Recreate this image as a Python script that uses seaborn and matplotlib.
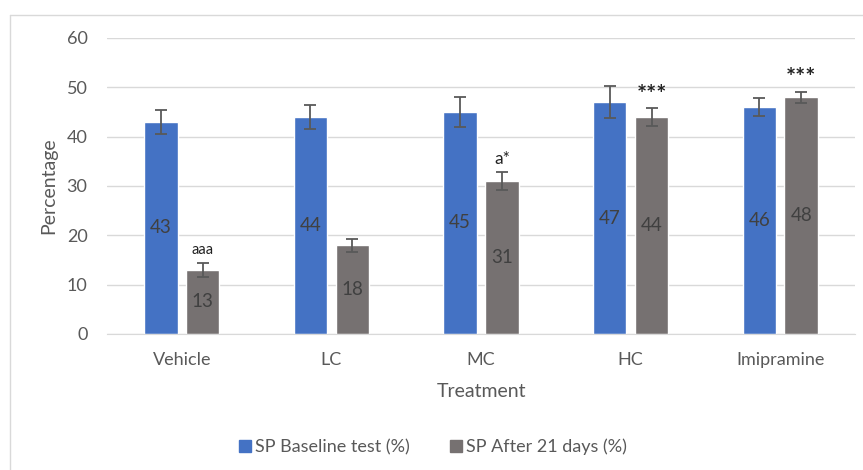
import pandas as pd
import seaborn as sns
import matplotlib.pyplot as plt
from matplotlib.lines import Line2D

# data
tratamientos = ['Vehicle', 'LC', 'MC', 'HC', 'Imipramine']
baseline = [43, 44, 45, 47, 46]
after_21 = [13, 18, 31, 44, 48]
err_baseline = [2.4, 2.4, 3.1, 3.3, 1.9]
err_after = [1.4, 1.3, 1.9, 1.8, 1.1]
marcas_after = ['aaa', '', 'a*', '***', '***']
series = ['SP Baseline test (%)', 'SP After 21 days (%)']

datos = pd.DataFrame({
    'Treatment': tratamientos * 2,
    'Percentage': baseline + after_21,
    'Serie': [series[0]] * 5 + [series[1]] * 5,
})

sns.set_style('white')
plt.rcParams['font.family'] = ['Lato', 'DejaVu Sans']

fig = plt.figure(figsize=(8.63, 4.70), dpi=100)
ax = fig.add_axes([107 / 863, 1 - 334 / 470, (855 - 107) / 863, (334 - 38) / 470])

colores = ['#4472C4', '#767171']
sns.barplot(data=datos, x='Treatment', y='Percentage', hue='Serie',
            palette=colores, width=0.56, gap=0.2, ax=ax, legend=False,
            saturation=1)

# error bars and labels
for cont, vals, errs in zip(ax.containers, [baseline, after_21], [err_baseline, err_after]):
    xs = [b.get_x() + b.get_width() / 2 for b in cont]
    ax.errorbar(xs, vals, yerr=errs, fmt='none', ecolor='#595959',
                elinewidth=1.3, capsize=4.5, capthick=1.3)
    ax.bar_label(cont, labels=[str(v) for v in vals], label_type='center',
                 color='#404040', fontsize=13.5)

# significance marks above the 21-day bars
xs_after = [b.get_x() + b.get_width() / 2 for b in ax.containers[1]]
for x, v, e, m in zip(xs_after, after_21, err_after, marcas_after):
    if not m:
        continue
    if m == 'aaa':
        ax.text(x, v + e + 1.2, m, ha='center', va='bottom', fontsize=10.5, color='#222222')
    elif m == 'a*':
        ax.text(x, v + e + 0.9, m, ha='center', va='bottom', fontsize=12.5, color='#222222')
    else:
        ax.text(x, v + e + 0.3, m, ha='center', va='bottom', fontsize=17,
                color='#222222', fontweight='bold')

ax.set_ylim(0, 60)
ax.set_xlim(-0.5, 4.5)
ax.set_yticks(range(0, 61, 10))
ax.grid(axis='y', color='#D9D9D9', linewidth=1)
ax.set_axisbelow(True)
for lado in ['top', 'right', 'left']:
    ax.spines[lado].set_visible(False)
ax.spines['bottom'].set_color('#D9D9D9')
ax.tick_params(axis='both', length=0, labelsize=13, labelcolor='#595959')
ax.tick_params(axis='x', pad=13)
ax.tick_params(axis='y', pad=14)
ax.set_xlabel('Treatment', fontsize=14, color='#595959', labelpad=11)
ax.set_ylabel('Percentage', fontsize=14, color='#595959', labelpad=7)

handles = [Line2D([], [], marker='s', linestyle='none', markersize=8.5,
                  markerfacecolor=c, markeredgecolor=c) for c in colores]
fig.legend(handles, series, loc='center', bbox_to_anchor=(0.5, 1 - 447 / 470),
           ncol=2, frameon=False, fontsize=13, handletextpad=0.05,
           handlelength=1.0, columnspacing=2.1, labelcolor='#595959')

# outer frame (left and top edges visible)
fig.add_artist(Line2D([10 / 863, 10 / 863], [0, 1 - 15 / 470], transform=fig.transFigure,
                      color='#D9D9D9', linewidth=1))
fig.add_artist(Line2D([10 / 863, 1], [1 - 15 / 470, 1 - 15 / 470], transform=fig.transFigure,
                      color='#D9D9D9', linewidth=1))

fig.savefig('out.png', dpi=100)
